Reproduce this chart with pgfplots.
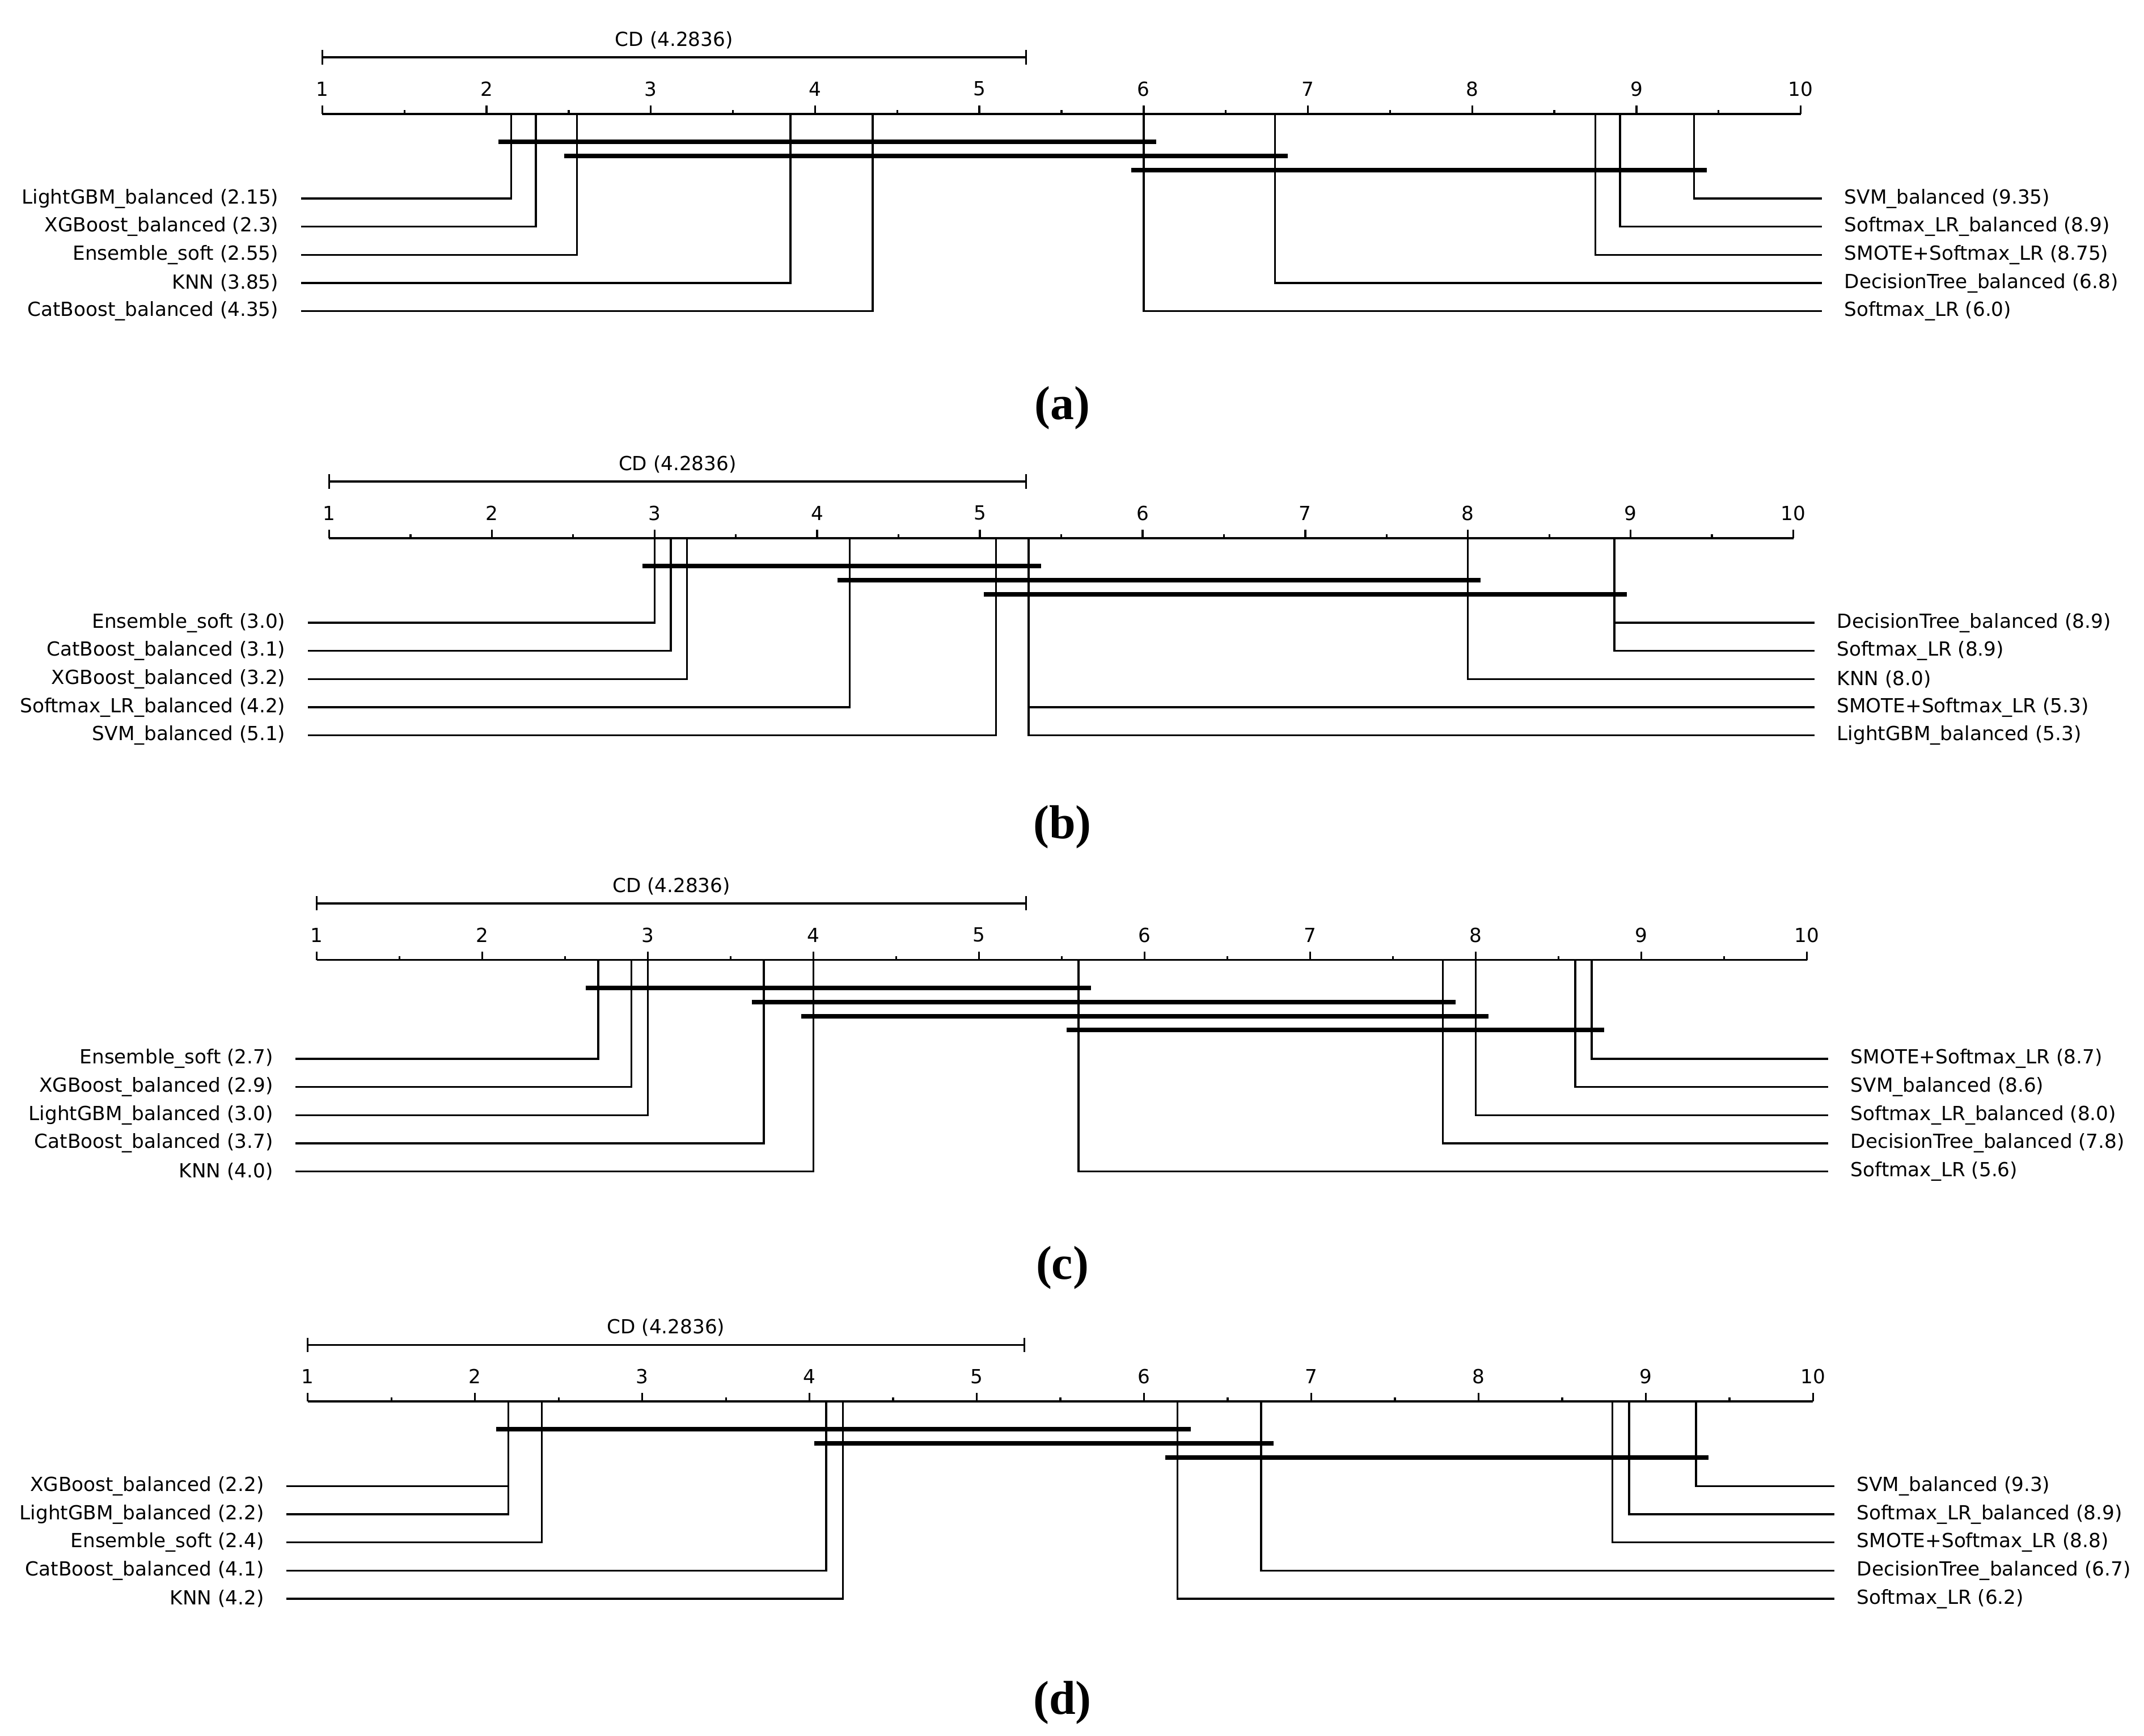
\documentclass[border=0pt]{standalone}
\usepackage{fontspec}
\setmainfont{DejaVu Sans}
\newfontfamily\capfont{Liberation Serif}
\usepackage{pgfplots}
\pgfplotsset{compat=1.18}
\newcommand\lf{\fontsize{7.1}{8.5}\selectfont}
\newcommand\capf{\capfont\fontsize{17.4}{20}\bfseries\selectfont}

\pgfplotsset{
  cdpanel/.style={hide axis, clip=false, xmin=1, xmax=10, ymin=-250, ymax=0,
    y=0.5pt, anchor=north west},
  thinl/.style={black, line width=0.7pt, mark=none},
  clique/.style={black, line width=1.65pt, mark=none},
}
\tikzset{
  labl/.style={font=\lf, inner sep=0pt, anchor=east, xshift=-8pt},
  labr/.style={font=\lf, inner sep=0pt, anchor=west, xshift=8pt},
}
% shared scale, CD bar and tick labels
\newcommand\cdframe{%
  \addplot[thinl] coordinates {(1,0) (10,0)};
  \pgfplotsinvokeforeach{1,...,10}{\addplot[thinl] coordinates {(##1,0) (##1,6.2)};}
  \pgfplotsinvokeforeach{1.5,2.5,...,9.5}{\addplot[thinl] coordinates {(##1,0) (##1,2.9)};}
  \pgfplotsinvokeforeach{1,...,10}{\node[font=\lf] at (axis cs:##1,18.3) {##1};}
  \addplot[thinl] coordinates {(1,41.4) (5.2836,41.4)};
  \addplot[thinl] coordinates {(1,36.2) (1,46.6)};
  \addplot[thinl] coordinates {(5.2836,36.2) (5.2836,46.6)};
  \node[font=\lf] at (axis cs:3.1418,54) {CD (4.2836)};
}

\begin{document}
\begin{tikzpicture}
\path[use as bounding box] (0,0) rectangle (784pt,634.7pt);

% ---------------- (a) ----------------
\begin{axis}[cdpanel, x=60.07pt, at={(117.85pt,593.05pt)}]
\cdframe
\addplot[clique] coordinates {(2.072,-20.4) (6.077,-20.4)};
\addplot[clique] coordinates {(2.472,-30.7) (6.876,-30.7)};
\addplot[clique] coordinates {(5.924,-41.0) (9.428,-41.0)};
% left
\addplot[thinl] coordinates {(2.15,0) (2.15,-61.9) (0.870,-61.9)};
\addplot[thinl] coordinates {(2.3,0) (2.3,-82.5) (0.870,-82.5)};
\addplot[thinl] coordinates {(2.55,0) (2.55,-103.1) (0.870,-103.1)};
\addplot[thinl] coordinates {(3.85,0) (3.85,-123.7) (0.870,-123.7)};
\addplot[thinl] coordinates {(4.35,0) (4.35,-144.3) (0.870,-144.3)};
\node[labl] at (axis cs:0.870,-61.9) {LightGBM\_balanced (2.15)};
\node[labl] at (axis cs:0.870,-82.5) {XGBoost\_balanced (2.3)};
\node[labl] at (axis cs:0.870,-103.1) {Ensemble\_soft (2.55)};
\node[labl] at (axis cs:0.870,-123.7) {KNN (3.85)};
\node[labl] at (axis cs:0.870,-144.3) {CatBoost\_balanced (4.35)};
% right
\addplot[thinl] coordinates {(9.35,0) (9.35,-61.9) (10.130,-61.9)};
\addplot[thinl] coordinates {(8.9,0) (8.9,-82.5) (10.130,-82.5)};
\addplot[thinl] coordinates {(8.75,0) (8.75,-103.1) (10.130,-103.1)};
\addplot[thinl] coordinates {(6.8,0) (6.8,-123.7) (10.130,-123.7)};
\addplot[thinl] coordinates {(6.0,0) (6.0,-144.3) (10.130,-144.3)};
\node[labr] at (axis cs:10.130,-61.9) {SVM\_balanced (9.35)};
\node[labr] at (axis cs:10.130,-82.5) {Softmax\_LR\_balanced (8.9)};
\node[labr] at (axis cs:10.130,-103.1) {SMOTE+Softmax\_LR (8.75)};
\node[labr] at (axis cs:10.130,-123.7) {DecisionTree\_balanced (6.8)};
\node[labr] at (axis cs:10.130,-144.3) {Softmax\_LR (6.0)};
\node[font=\capf, anchor=base, inner sep=0pt] at (axis cs:5.506,-223.2) {(a)};
\end{axis}

% ---------------- (b) ----------------
\begin{axis}[cdpanel, x=59.49pt, at={(120.35pt,437.95pt)}]
\cdframe
\addplot[clique] coordinates {(2.926,-20.4) (5.375,-20.4)};
\addplot[clique] coordinates {(4.124,-30.7) (8.078,-30.7)};
\addplot[clique] coordinates {(5.026,-41.0) (8.977,-41.0)};
\addplot[thinl] coordinates {(3.0,0) (3.0,-61.9) (0.869,-61.9)};
\addplot[thinl] coordinates {(3.1,0) (3.1,-82.5) (0.869,-82.5)};
\addplot[thinl] coordinates {(3.2,0) (3.2,-103.1) (0.869,-103.1)};
\addplot[thinl] coordinates {(4.2,0) (4.2,-123.7) (0.869,-123.7)};
\addplot[thinl] coordinates {(5.1,0) (5.1,-144.3) (0.869,-144.3)};
\node[labl] at (axis cs:0.869,-61.9) {Ensemble\_soft (3.0)};
\node[labl] at (axis cs:0.869,-82.5) {CatBoost\_balanced (3.1)};
\node[labl] at (axis cs:0.869,-103.1) {XGBoost\_balanced (3.2)};
\node[labl] at (axis cs:0.869,-123.7) {Softmax\_LR\_balanced (4.2)};
\node[labl] at (axis cs:0.869,-144.3) {SVM\_balanced (5.1)};
\addplot[thinl] coordinates {(8.9,0) (8.9,-61.9) (10.131,-61.9)};
\addplot[thinl] coordinates {(8.9,0) (8.9,-82.5) (10.131,-82.5)};
\addplot[thinl] coordinates {(8.0,0) (8.0,-103.1) (10.131,-103.1)};
\addplot[thinl] coordinates {(5.3,0) (5.3,-123.7) (10.131,-123.7)};
\addplot[thinl] coordinates {(5.3,0) (5.3,-144.3) (10.131,-144.3)};
\node[labr] at (axis cs:10.131,-61.9) {DecisionTree\_balanced (8.9)};
\node[labr] at (axis cs:10.131,-82.5) {Softmax\_LR (8.9)};
\node[labr] at (axis cs:10.131,-103.1) {KNN (8.0)};
\node[labr] at (axis cs:10.131,-123.7) {SMOTE+Softmax\_LR (5.3)};
\node[labr] at (axis cs:10.131,-144.3) {LightGBM\_balanced (5.3)};
\node[font=\capf, anchor=base, inner sep=0pt] at (axis cs:5.507,-219.5) {(b)};
\end{axis}

% ---------------- (c) ----------------
\begin{axis}[cdpanel, x=60.545pt, at={(115.85pt,283.7pt)}]
\cdframe
\addplot[clique] coordinates {(2.625,-20.4) (5.677,-20.4)};
\addplot[clique] coordinates {(3.627,-30.7) (7.877,-30.7)};
\addplot[clique] coordinates {(3.927,-41.0) (8.077,-41.0)};
\addplot[clique] coordinates {(5.530,-51.3) (8.776,-51.3)};
\addplot[thinl] coordinates {(2.7,0) (2.7,-72.2) (0.871,-72.2)};
\addplot[thinl] coordinates {(2.9,0) (2.9,-92.8) (0.871,-92.8)};
\addplot[thinl] coordinates {(3.0,0) (3.0,-113.4) (0.871,-113.4)};
\addplot[thinl] coordinates {(3.7,0) (3.7,-134.0) (0.871,-134.0)};
\addplot[thinl] coordinates {(4.0,0) (4.0,-154.6) (0.871,-154.6)};
\node[labl] at (axis cs:0.871,-72.2) {Ensemble\_soft (2.7)};
\node[labl] at (axis cs:0.871,-92.8) {XGBoost\_balanced (2.9)};
\node[labl] at (axis cs:0.871,-113.4) {LightGBM\_balanced (3.0)};
\node[labl] at (axis cs:0.871,-134.0) {CatBoost\_balanced (3.7)};
\node[labl] at (axis cs:0.871,-154.6) {KNN (4.0)};
\addplot[thinl] coordinates {(8.7,0) (8.7,-72.2) (10.129,-72.2)};
\addplot[thinl] coordinates {(8.6,0) (8.6,-92.8) (10.129,-92.8)};
\addplot[thinl] coordinates {(8.0,0) (8.0,-113.4) (10.129,-113.4)};
\addplot[thinl] coordinates {(7.8,0) (7.8,-134.0) (10.129,-134.0)};
\addplot[thinl] coordinates {(5.6,0) (5.6,-154.6) (10.129,-154.6)};
\node[labr] at (axis cs:10.129,-72.2) {SMOTE+Softmax\_LR (8.7)};
\node[labr] at (axis cs:10.129,-92.8) {SVM\_balanced (8.6)};
\node[labr] at (axis cs:10.129,-113.4) {Softmax\_LR\_balanced (8.0)};
\node[labr] at (axis cs:10.129,-134.0) {DecisionTree\_balanced (7.8)};
\node[labr] at (axis cs:10.129,-154.6) {Softmax\_LR (5.6)};
\node[font=\capf, anchor=base, inner sep=0pt] at (axis cs:5.503,-233.5) {(c)};
\end{axis}

% ---------------- (d) ----------------
\begin{axis}[cdpanel, x=61.16pt, at={(112.55pt,122.3pt)}]
\cdframe
\addplot[clique] coordinates {(2.126,-20.4) (6.278,-20.4)};
\addplot[clique] coordinates {(4.028,-30.7) (6.775,-30.7)};
\addplot[clique] coordinates {(6.128,-41.0) (9.375,-41.0)};
\addplot[thinl] coordinates {(2.2,0) (2.2,-61.9) (0.872,-61.9)};
\addplot[thinl] coordinates {(2.2,0) (2.2,-82.5) (0.872,-82.5)};
\addplot[thinl] coordinates {(2.4,0) (2.4,-103.1) (0.872,-103.1)};
\addplot[thinl] coordinates {(4.1,0) (4.1,-123.7) (0.872,-123.7)};
\addplot[thinl] coordinates {(4.2,0) (4.2,-144.3) (0.872,-144.3)};
\node[labl] at (axis cs:0.872,-61.9) {XGBoost\_balanced (2.2)};
\node[labl] at (axis cs:0.872,-82.5) {LightGBM\_balanced (2.2)};
\node[labl] at (axis cs:0.872,-103.1) {Ensemble\_soft (2.4)};
\node[labl] at (axis cs:0.872,-123.7) {CatBoost\_balanced (4.1)};
\node[labl] at (axis cs:0.872,-144.3) {KNN (4.2)};
\addplot[thinl] coordinates {(9.3,0) (9.3,-61.9) (10.128,-61.9)};
\addplot[thinl] coordinates {(8.9,0) (8.9,-82.5) (10.128,-82.5)};
\addplot[thinl] coordinates {(8.8,0) (8.8,-103.1) (10.128,-103.1)};
\addplot[thinl] coordinates {(6.7,0) (6.7,-123.7) (10.128,-123.7)};
\addplot[thinl] coordinates {(6.2,0) (6.2,-144.3) (10.128,-144.3)};
\node[labr] at (axis cs:10.128,-61.9) {SVM\_balanced (9.3)};
\node[labr] at (axis cs:10.128,-82.5) {Softmax\_LR\_balanced (8.9)};
\node[labr] at (axis cs:10.128,-103.1) {SMOTE+Softmax\_LR (8.8)};
\node[labr] at (axis cs:10.128,-123.7) {DecisionTree\_balanced (6.7)};
\node[labr] at (axis cs:10.128,-144.3) {Softmax\_LR (6.2)};
\node[font=\capf, anchor=base, inner sep=0pt] at (axis cs:5.512,-228.7) {(d)};
\end{axis}
\end{tikzpicture}
\end{document}
